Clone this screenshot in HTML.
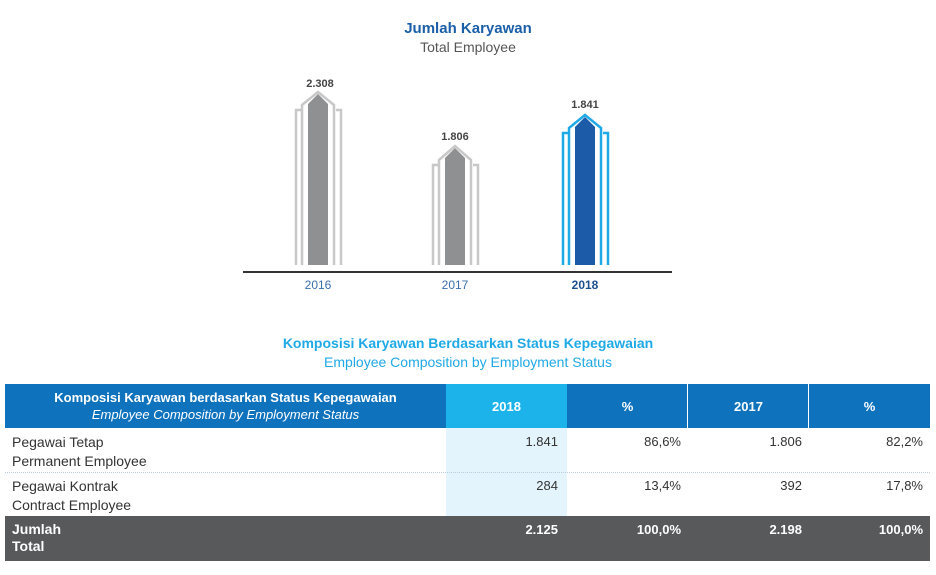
<!DOCTYPE html>
<html><head><style>
body{margin:0;width:936px;height:575px;background:#fff;position:relative;font-family:"Liberation Sans",sans-serif;overflow:hidden}
.a{position:absolute}
.c{text-align:center}
.r{text-align:right}
</style></head><body>
<div class="a c" style="left:0;width:936px;top:20px;font-size:15px;font-weight:bold;color:#1b5fa8">Jumlah Karyawan</div>
<div class="a c" style="left:0;width:936px;top:39px;font-size:14px;color:#555">Total Employee</div>
<svg class="a" style="left:0;top:0" width="936" height="300">
<g font-size="11" font-weight="bold" fill="#444" text-anchor="middle">
<text x="320" y="87">2.308</text><text x="455" y="140">1.806</text><text x="585" y="108">1.841</text>
</g>
<!-- arrows -->
<g fill="none" stroke-width="2.5">
<g stroke="#c8c8c8">
<polyline points="296,265 296,110 301,110"/><polyline points="341,265 341,110 336,110"/>
<polyline points="302,265 302,105 318,92 334,105 334,265"/>
<polyline points="433,265 433,165 438,165"/><polyline points="478,265 478,165 473,165"/>
<polyline points="439,265 439,160 455,146 471,160 471,265"/>
</g>
<g stroke="#1fa9e6">
<polyline points="563,265 563,133 568,133"/><polyline points="608,265 608,133 603,133"/>
<polyline points="569,265 569,128 585,115 601,128 601,265"/>
</g>
</g>
<polygon points="308,265 308,104 318,94 328,104 328,265" fill="#8f9092"/>
<polygon points="445,265 445,158 455,148 465,158 465,265" fill="#8f9092"/>
<polygon points="575,265 575,127 585,117 595,127 595,265" fill="#1c5ba8"/>
<line x1="243" y1="272" x2="672" y2="272" stroke="#333" stroke-width="2"/>
<g font-size="12" fill="#3a6fae" text-anchor="middle">
<text x="318" y="289">2016</text><text x="455" y="289">2017</text><text x="585" y="289" font-weight="bold" fill="#1c4f8f">2018</text>
</g>
</svg>
<div class="a c" style="left:0;width:936px;top:335px;font-size:14px;font-weight:bold;color:#1fa9e6">Komposisi Karyawan Berdasarkan Status Kepegawaian</div>
<div class="a c" style="left:0;width:936px;top:354px;font-size:14px;color:#1fa9e6">Employee Composition by Employment Status</div>
<!-- table -->
<div class="a" style="left:5px;top:384px;width:925px;height:44px;background:#0f72bd"></div>
<div class="a" style="left:446px;top:384px;width:121px;height:132px;background:#e4f4fc"></div>
<div class="a" style="left:446px;top:384px;width:121px;height:44px;background:#1cb3ea"></div>
<div class="a" style="left:687px;top:384px;width:1px;height:44px;background:#fff"></div>
<div class="a" style="left:808px;top:384px;width:1px;height:44px;background:#fff"></div>
<div class="a c" style="left:5px;width:441px;top:389px;color:#fff;font-size:13px;line-height:17px"><b>Komposisi Karyawan berdasarkan Status Kepegawaian</b><br><i>Employee Composition by Employment Status</i></div>
<div class="a c" style="left:446px;width:121px;top:399px;color:#fff;font-size:13px;font-weight:bold">2018</div>
<div class="a c" style="left:567px;width:121px;top:399px;color:#fff;font-size:13px;font-weight:bold">%</div>
<div class="a c" style="left:688px;width:121px;top:399px;color:#fff;font-size:13px;font-weight:bold">2017</div>
<div class="a c" style="left:809px;width:121px;top:399px;color:#fff;font-size:13px;font-weight:bold">%</div>
<div class="a" style="left:5px;top:472px;width:925px;border-top:1px dotted #bcd"></div>
<div class="a" style="left:12px;top:433px;font-size:14px;color:#333;line-height:19px">Pegawai Tetap<br>Permanent Employee</div>
<div class="a" style="left:12px;top:477px;font-size:14px;color:#333;line-height:19px">Pegawai Kontrak<br>Contract Employee</div>
<div class="a" style="left:5px;top:516px;width:925px;height:45px;background:#58595b"></div>
<div class="a" style="left:12px;top:521px;font-size:14px;color:#fff;font-weight:bold;line-height:17px">Jumlah<br>Total</div>
<div style="font-size:13px;color:#333">
<div class="a r" style="left:446px;width:112px;top:434px">1.841</div>
<div class="a r" style="left:567px;width:114px;top:434px">86,6%</div>
<div class="a r" style="left:688px;width:114px;top:434px">1.806</div>
<div class="a r" style="left:809px;width:114px;top:434px">82,2%</div>
<div class="a r" style="left:446px;width:112px;top:478px">284</div>
<div class="a r" style="left:567px;width:114px;top:478px">13,4%</div>
<div class="a r" style="left:688px;width:114px;top:478px">392</div>
<div class="a r" style="left:809px;width:114px;top:478px">17,8%</div>
</div>
<div style="font-size:13px;color:#fff;font-weight:bold">
<div class="a r" style="left:446px;width:112px;top:522px">2.125</div>
<div class="a r" style="left:567px;width:114px;top:522px">100,0%</div>
<div class="a r" style="left:688px;width:114px;top:522px">2.198</div>
<div class="a r" style="left:809px;width:114px;top:522px">100,0%</div>
</div>
</body></html>
